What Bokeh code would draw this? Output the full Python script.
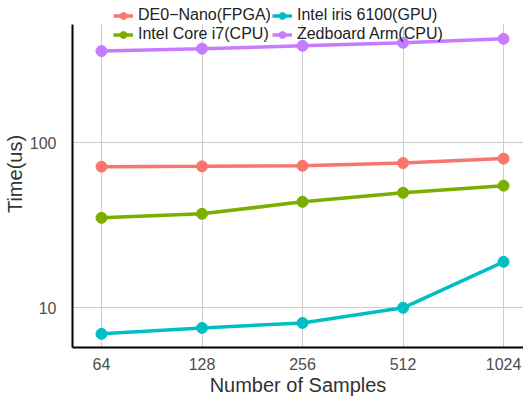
from bokeh.plotting import figure
from bokeh.models import Range1d, FixedTicker, PrintfTickFormatter, Legend, LegendItem, BoxAnnotation
from bokeh.embed import file_html
from bokeh.resources import INLINE

samples = [64, 128, 256, 512, 1024]
fpga = [71.7, 72.0, 72.6, 75.4, 80.2]
core_i7 = [35.1, 37.1, 43.9, 49.8, 55.0]
iris = [6.95, 7.55, 8.1, 10.0, 19.0]
zedboard = [360, 372, 387, 404, 427]

series = [
    ("DE0\u2212Nano(FPGA)", fpga, "#F8766D"),
    ("Intel iris 6100(GPU)", iris, "#00BFC4"),
    ("Intel Core i7(CPU)", core_i7, "#7CAE00"),
    ("Zedboard Arm(CPU)", zedboard, "#C77CFF"),
]

FONT = "Liberation Sans"
Y_LOW, Y_PANEL_TOP, Y_CANVAS_TOP = 5.746, 521, 728.6

p = figure(width=523, height=398, output_backend="svg", toolbar_location=None,
           x_axis_type="log", y_axis_type="log",
           x_range=Range1d(52.4, 1175), y_range=Range1d(Y_LOW, Y_CANVAS_TOP),
           min_border_left=72, min_border_right=0, min_border_top=0, min_border_bottom=51)
p.outline_line_color = None
p.background_fill_color = "white"
p.border_fill_color = "white"

items = []
for name, vals, color in series:
    r1 = p.line(samples, vals, line_color=color, line_width=3.5)
    r2 = p.scatter(samples, vals, size=11, fill_color=color, line_color=color)
    items.append(LegendItem(label=name, renderers=[r1, r2]))

p.xaxis.ticker = FixedTicker(ticks=samples, minor_ticks=[])
p.xaxis.formatter = PrintfTickFormatter(format="%d")
p.yaxis.ticker = FixedTicker(ticks=[10, 100], minor_ticks=[])
p.yaxis.formatter = PrintfTickFormatter(format="%d")
p.yaxis.bounds = (Y_LOW, Y_PANEL_TOP)

for ax in (p.xaxis[0], p.yaxis[0]):
    ax.major_tick_line_color = None
    ax.minor_tick_line_color = None
    ax.axis_line_color = "black"
    ax.axis_line_width = 2
    ax.major_label_text_font = FONT
    ax.major_label_text_font_size = "16px"
    ax.major_label_text_color = "#4d4d4d"
    ax.axis_label_text_font = FONT
    ax.axis_label_text_font_size = "20px"
    ax.axis_label_text_font_style = "normal"
    ax.axis_label_text_color = "#333333"

p.xaxis.axis_label = "Number of Samples"
p.yaxis.axis_label = "Time(us)"
p.xaxis.major_label_standoff = 4
p.xaxis.axis_label_standoff = 1
p.yaxis.major_label_standoff = 10
p.yaxis.axis_label_standoff = 1

p.xgrid.grid_line_color = "#cccccc"
p.ygrid.grid_line_color = "#cccccc"
p.xgrid.grid_line_width = 1
p.ygrid.grid_line_width = 1

# blank strip above the panel (where the legend sits)
p.add_layout(BoxAnnotation(bottom=Y_PANEL_TOP, fill_color="white", fill_alpha=1,
                           line_color=None, level="underlay"))

legend = Legend(items=items, location=(41, 304), orientation="horizontal", ncols=2,
                background_fill_alpha=0, border_line_color=None,
                padding=0, margin=0, spacing=1,
                glyph_width=20, glyph_height=17, label_height=17, label_standoff=5,
                label_text_font=FONT, label_text_font_size="16px", label_text_color="#222222")
p.add_layout(legend)

open("out.html", "w").write(file_html(p, INLINE))
